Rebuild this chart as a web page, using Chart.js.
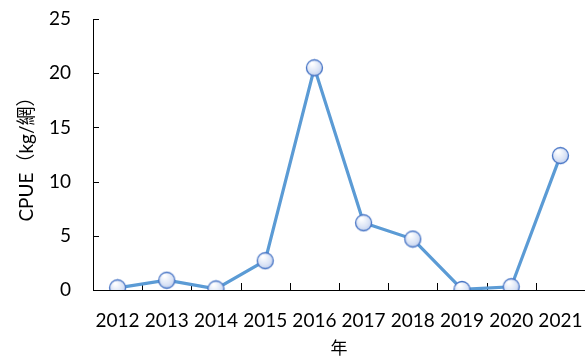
<!DOCTYPE html>
<html>
<head>
<script src="https://cdn.jsdelivr.net/npm/chart.js@4"></script>
<style>
  body { margin: 0; background: #fff; }
  #wrap { width: 585px; height: 359px; }
</style>
</head>
<body>
<div id="wrap">
  <canvas id="cpueChart" width="585" height="359"></canvas>
</div>
<script>
// yearly CPUE values
var years = ['2012', '2013', '2014', '2015', '2016', '2017', '2018', '2019', '2020', '2021'];
var cpue = [0.2, 0.9, 0.1, 2.7, 20.5, 6.2, 4.7, 0.05, 0.3, 12.4];
var yTicks = [0, 5, 10, 15, 20, 25];

var latin = "Lato, 'Noto Sans CJK TC', sans-serif";

// round marker with a soft blue shading, used as the point style
function makeMarker() {
  var c = document.createElement('canvas');
  c.width = 19; c.height = 19;
  var g = c.getContext('2d');
  var grad = g.createRadialGradient(7, 5, 1, 9.5, 9.5, 11);
  grad.addColorStop(0, '#ffffff');
  grad.addColorStop(0.55, '#dbe4f6');
  grad.addColorStop(1, '#a9bde6');
  g.beginPath();
  g.arc(9.5, 9.5, 8, 0, Math.PI * 2);
  g.fillStyle = grad;
  g.fill();
  g.lineWidth = 1.3;
  g.strokeStyle = '#4472c4';
  g.stroke();
  return c;
}

// small tick marks pointing into the plot area
var innerTicks = {
  id: 'innerTicks',
  beforeDatasetsDraw: function (chart) {
    var ctx = chart.ctx;
    var area = chart.chartArea;
    var xs = chart.scales.x, ys = chart.scales.y;
    ctx.save();
    ctx.strokeStyle = '#000';
    ctx.lineWidth = 1;
    ctx.beginPath();
    yTicks.forEach(function (v) {
      var y = Math.round(ys.getPixelForValue(v)) + 0.5;
      ctx.moveTo(area.left, y);
      ctx.lineTo(area.left + 6, y);
    });
    var step = xs.getPixelForValue(1) - xs.getPixelForValue(0);
    for (var i = 0; i < years.length; i++) {
      var x = Math.round(xs.getPixelForValue(i) + step / 2) + 0.5;
      ctx.moveTo(x, area.bottom);
      ctx.lineTo(x, area.bottom - 7);
    }
    ctx.stroke();
    ctx.restore();
  }
};

var ctx = document.getElementById('cpueChart').getContext('2d');
var chart = new Chart(ctx, {
  type: 'line',
  data: {
    labels: years,
    datasets: [{
      data: cpue,
      borderColor: '#5b9bd5',
      borderWidth: 3.2,
      tension: 0,
      pointStyle: makeMarker(),
      pointRadius: 9
    }]
  },
  options: {
    responsive: false,
    animation: false,
    layout: { autoPadding: false, padding: { top: 19, left: 0, right: 0, bottom: 0 } },
    plugins: {
      legend: { display: false },
      tooltip: { enabled: false }
    },
    scales: {
      x: {
        offset: true,
        grid: { drawOnChartArea: false, drawTicks: false },
        border: { display: true, color: '#000', width: 1 },
        ticks: { color: '#000', padding: 19, maxRotation: 0, font: { family: latin, size: 19 } },
        title: {
          display: true,
          text: '年',
          color: '#000',
          font: { family: "'Noto Sans CJK TC', sans-serif", size: 17 },
          padding: { top: 0, bottom: 1 }
        },
        afterFit: function (scale) {
          scale.height = 69;
          scale.paddingLeft = 0;
          scale.paddingRight = 0;
        }
      },
      y: {
        min: 0,
        max: 25,
        afterBuildTicks: function (scale) {
          scale.ticks = yTicks.map(function (v) { return { value: v }; });
        },
        grid: { drawOnChartArea: false, drawTicks: false },
        border: { display: true, color: '#000', width: 1 },
        ticks: { color: '#000', padding: 22, font: { family: latin, size: 19 } },
        title: {
          display: true,
          text: 'CPUE（kg/網）',
          color: '#000',
          font: { family: latin, size: 19 },
          padding: { top: 15, bottom: 0 }
        },
        afterFit: function (scale) {
          scale.width = 93;
          scale.paddingTop = 0;
          scale.paddingBottom = 0;
        }
      }
    }
  },
  plugins: [innerTicks]
});
</script>
</body>
</html>
